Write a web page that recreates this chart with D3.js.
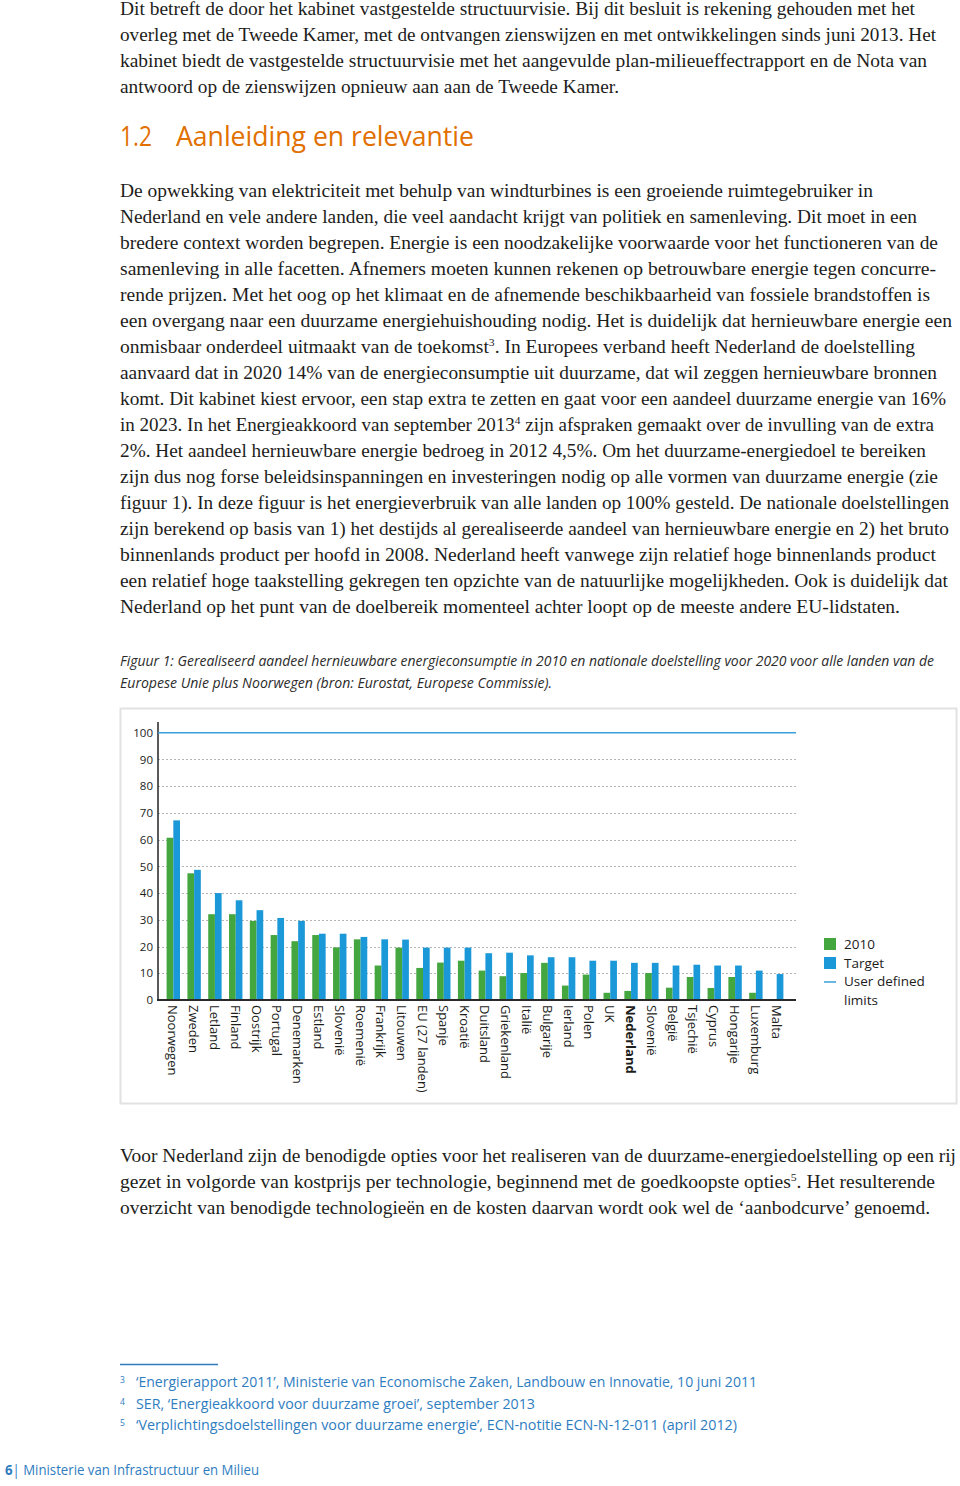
<!DOCTYPE html>
<html>
<head>
<meta charset="utf-8">
<script src="https://cdn.jsdelivr.net/npm/d3@7"></script>
<style>
  html, body { margin: 0; padding: 0; background: #fff; }
  svg { display: block; }
</style>
</head>
<body>
<svg id="page" width="960" height="1486"></svg>
<script>
// ---------- DATA ----------
const categories = ["Noorwegen","Zweden","Letland","Finland","Oostrijk","Portugal","Denemarken","Estland","Slovenië","Roemenië","Frankrijk","Litouwen","EU (27 landen)","Spanje","Kroatië","Duitsland","Griekenland","Italië","Bulgarije","Ierland","Polen","UK","Nederland","Slovenië","België","Tsjechië","Cyprus","Hongarije","Luxemburg","Malta"];
const values2010 = [60.7,47.4,32.1,32.1,29.6,24.3,22.0,24.3,19.7,22.7,12.9,19.6,12.0,14.0,14.7,11.0,8.9,10.1,13.9,5.4,9.5,2.7,3.4,10.1,4.6,8.6,4.5,8.6,2.7,0];
const valuesTarget = [67.2,48.7,40.0,37.3,33.6,30.7,29.6,24.8,24.8,23.6,22.7,22.6,19.6,19.6,19.6,17.5,17.7,16.7,16.0,16.0,14.7,14.7,13.9,13.9,12.9,13.2,12.9,12.9,11.0,9.7];
const yTicks = [0,10,20,30,40,50,60,70,80,90,100];
const userLimit = 100;
const seriesNames = ["2010","Target"];
const highlight = "Nederland";

// ---------- STYLE ----------
const GREEN = "#44a63f", BLUE = "#1b98d8", LIMIT = "#3aa0dc";
const TEXT = "#1d1d1b", ORANGE = "#e17000", FNBLUE = "#2f7dbf";
const SERIF = "'Liberation Serif', 'DejaVu Serif', serif";
const SANS = "'Open Sans', 'Noto Sans', sans-serif";

const svg = d3.select("#page");

function line(x, y, right, content, opts) {
  const t = svg.append("text")
    .attr("x", x).attr("y", y)
    .attr("font-family", opts.family)
    .attr("font-size", opts.size)
    .attr("fill", opts.fill)
    .attr("font-style", opts.italic ? "italic" : "normal")
    .attr("font-weight", opts.weight || "normal")
    .attr("textLength", right - x)
    .attr("lengthAdjust", "spacingAndGlyphs");
  // superscript markers like {3}
  const parts = content.split(/(\{[0-9]+\})/);
  let pending = 0;
  parts.forEach(p => {
    if (!p) return;
    const m = p.match(/^\{([0-9]+)\}$/);
    if (m) {
      const shift = -opts.size * 0.38;
      t.append("tspan").attr("font-size", opts.size * 0.6).attr("dy", shift + pending).text(m[1]);
      pending = -shift;
    } else {
      const ts = t.append("tspan").text(p);
      if (pending) { ts.attr("dy", pending); pending = 0; }
    }
  });
  return t;
}

// ---------- BODY TEXT ----------
const bodyOpts = {family: SERIF, size: 18.5, fill: TEXT};
const para1 = [
  ["Dit betreft de door het kabinet vastgestelde structuurvisie. Bij dit besluit is rekening gehouden met het", 915],
  ["overleg met de Tweede Kamer, met de ontvangen zienswijzen en met ontwikkelingen sinds juni 2013. Het", 936],
  ["kabinet biedt de vastgestelde structuurvisie met het aangevulde plan-milieueffectrapport en de Nota van", 927],
  ["antwoord op de zienswijzen opnieuw aan aan de Tweede Kamer.", 619]
];
para1.forEach((l, i) => line(120, 15 + 26 * i, l[1], l[0], bodyOpts));

svg.append("text").attr("x", 120).attr("y", 146).attr("font-family", SANS).attr("font-size", 27)
  .attr("fill", ORANGE).attr("textLength", 32).attr("lengthAdjust", "spacingAndGlyphs").text("1.2");
svg.append("text").attr("x", 176).attr("y", 146).attr("font-family", SANS).attr("font-size", 27)
  .attr("fill", ORANGE).attr("textLength", 298).attr("lengthAdjust", "spacingAndGlyphs").text("Aanleiding en relevantie");

const para2 = [
  ["De opwekking van elektriciteit met behulp van windturbines is een groeiende ruimtegebruiker in", 873],
  ["Nederland en vele andere landen, die veel aandacht krijgt van politiek en samenleving. Dit moet in een", 917],
  ["bredere context worden begrepen. Energie is een noodzakelijke voorwaarde voor het functioneren van de", 938],
  ["samenleving in alle facetten. Afnemers moeten kunnen rekenen op betrouwbare energie tegen concurre-", 936],
  ["rende prijzen. Met het oog op het klimaat en de afnemende beschikbaarheid van fossiele brandstoffen is", 930],
  ["een overgang naar een duurzame energiehuishouding nodig. Het is duidelijk dat hernieuwbare energie een", 952],
  ["onmisbaar onderdeel uitmaakt van de toekomst{3}. In Europees verband heeft Nederland de doelstelling", 915],
  ["aanvaard dat in 2020 14% van de energieconsumptie uit duurzame, dat wil zeggen hernieuwbare bronnen", 937],
  ["komt. Dit kabinet kiest ervoor, een stap extra te zetten en gaat voor een aandeel duurzame energie van 16%", 946],
  ["in 2023. In het Energieakkoord van september 2013{4} zijn afspraken gemaakt over de invulling van de extra", 934],
  ["2%. Het aandeel hernieuwbare energie bedroeg in 2012 4,5%. Om het duurzame-energiedoel te bereiken", 926],
  ["zijn dus nog forse beleidsinspanningen en investeringen nodig op alle vormen van duurzame energie (zie", 938],
  ["figuur 1). In deze figuur is het energieverbruik van alle landen op 100% gesteld. De nationale doelstellingen", 949],
  ["zijn berekend op basis van 1) het destijds al gerealiseerde aandeel van hernieuwbare energie en 2) het bruto", 949],
  ["binnenlands product per hoofd in 2008. Nederland heeft vanwege zijn relatief hoge binnenlands product", 936],
  ["een relatief hoge taakstelling gekregen ten opzichte van de natuurlijke mogelijkheden. Ook is duidelijk dat", 948],
  ["Nederland op het punt van de doelbereik momenteel achter loopt op de meeste andere EU-lidstaten.", 900]
];
para2.forEach((l, i) => line(120, 197 + 26 * i, l[1], l[0], bodyOpts));

const capOpts = {family: SANS, size: 14, fill: "#2b2b2b", italic: true};
line(120, 666, 934, "Figuur 1: Gerealiseerd aandeel hernieuwbare energieconsumptie in 2010 en nationale doelstelling voor 2020 voor alle landen van de", capOpts);
line(120, 688, 552, "Europese Unie plus Noorwegen (bron: Eurostat, Europese Commissie).", capOpts);

const para3 = [
  ["Voor Nederland zijn de benodigde opties voor het realiseren van de duurzame-energiedoelstelling op een rij", 956],
  ["gezet in volgorde van kostprijs per technologie, beginnend met de goedkoopste opties{5}. Het resulterende", 935],
  ["overzicht van benodigde technologieën en de kosten daarvan wordt ook wel de ‘aanbodcurve’ genoemd.", 930]
];
para3.forEach((l, i) => line(120, 1162 + 26 * i, l[1], l[0], bodyOpts));

// footnotes
svg.append("line").attr("x1", 120).attr("x2", 218).attr("y1", 1364.5).attr("y2", 1364.5)
  .attr("stroke", FNBLUE).attr("stroke-width", 1.3);
const footnotes = [
  ["3", "‘Energierapport 2011’, Ministerie van Economische Zaken, Landbouw en Innovatie, 10 juni 2011", 757],
  ["4", "SER, ‘Energieakkoord voor duurzame groei’, september 2013", 535],
  ["5", "‘Verplichtingsdoelstellingen voor duurzame energie’, ECN-notitie ECN-N-12-011 (april 2012)", 737]
];
footnotes.forEach((f, i) => {
  const y = 1387 + 21.5 * i;
  svg.append("text").attr("x", 120).attr("y", y - 4).attr("font-family", SANS).attr("font-size", 8.5)
    .attr("fill", FNBLUE).text(f[0]);
  line(136, y, f[2], f[1], {family: SANS, size: 14, fill: FNBLUE});
});
const foot = svg.append("text").attr("x", 5).attr("y", 1475).attr("font-family", SANS).attr("font-size", 14)
  .attr("fill", FNBLUE).attr("textLength", 254).attr("lengthAdjust", "spacingAndGlyphs");
foot.append("tspan").attr("font-weight", "bold").text("6");
foot.append("tspan").text("| Ministerie van Infrastructuur en Milieu");

// ---------- CHART ----------
svg.append("rect").attr("x", 120.5).attr("y", 708.5).attr("width", 836).attr("height", 395)
  .attr("fill", "#fff").attr("stroke", "#e2e2e2").attr("stroke-width", 2);

const plotLeft = 158, plotRight = 796, yBottom = 1000, yTop = 732.7;
const y = d3.scaleLinear().domain([0, 100]).range([yBottom, yTop]);
const x = d3.scaleBand().domain(d3.range(categories.length)).range([156, 794])
  .paddingInner(0.356).paddingOuter(0.51);
const xs = d3.scaleBand().domain(seriesNames).range([0, x.bandwidth()]);

// gridlines
const grid = svg.append("g");
grid.selectAll("line").data(yTicks.filter(t => t > 0 && t < userLimit)).join("line")
  .attr("x1", plotLeft).attr("x2", plotRight)
  .attr("y1", d => Math.round(y(d)) + 0.5).attr("y2", d => Math.round(y(d)) + 0.5)
  .attr("stroke", "#b5b5b5").attr("stroke-width", 1).attr("stroke-dasharray", "2,2");

// y axis
const yAxis = d3.axisLeft(y).tickValues(yTicks).tickSize(0).tickPadding(5);
const ya = svg.append("g").attr("transform", `translate(${plotLeft},0)`).call(yAxis);
ya.select(".domain").remove();
ya.selectAll("text").attr("font-family", SANS).attr("font-size", 11.5).attr("fill", TEXT);
svg.append("line").attr("x1", plotLeft).attr("x2", plotLeft).attr("y1", 722).attr("y2", yBottom)
  .attr("stroke", "#222").attr("stroke-width", 1.5);

// bars
const bars = svg.append("g");
categories.forEach((c, i) => {
  const vals = [values2010[i], valuesTarget[i]];
  seriesNames.forEach((s, j) => {
    if (vals[j] <= 0) return;
    bars.append("rect")
      .attr("x", x(i) + xs(s)).attr("width", xs.bandwidth())
      .attr("y", y(vals[j])).attr("height", y(0) - y(vals[j]))
      .attr("fill", j === 0 ? GREEN : BLUE);
  });
});

// user defined limit line
svg.append("line").attr("x1", plotLeft).attr("x2", plotRight)
  .attr("y1", y(userLimit)).attr("y2", y(userLimit))
  .attr("stroke", LIMIT).attr("stroke-width", 1.6);

// baseline
svg.append("line").attr("x1", plotLeft - 1).attr("x2", plotRight)
  .attr("y1", y(0)).attr("y2", y(0)).attr("stroke", "#2a2a2a").attr("stroke-width", 2);

// category labels
const xa = svg.append("g");
xa.selectAll("text").data(categories).join("text")
  .attr("transform", (d, i) => `translate(${x(i) + x.bandwidth() / 2},${yBottom + 5}) rotate(90)`)
  .attr("text-anchor", "start").attr("dominant-baseline", "central")
  .attr("font-family", SANS).attr("font-size", 13)
  .attr("font-weight", d => d === highlight ? "bold" : "normal")
  .attr("fill", TEXT).text(d => d);

// legend
const lg = svg.append("g").attr("transform", "translate(824,938)");
lg.append("rect").attr("x", 0).attr("y", 0).attr("width", 12).attr("height", 12).attr("fill", GREEN);
lg.append("rect").attr("x", 0).attr("y", 19).attr("width", 12).attr("height", 12).attr("fill", BLUE);
lg.append("line").attr("x1", 0).attr("x2", 12).attr("y1", 44).attr("y2", 44).attr("stroke", LIMIT).attr("stroke-width", 1.5);
const legendText = [[seriesNames[0], 11], [seriesNames[1], 30], ["User defined", 48], ["limits", 67]];
lg.selectAll("text.l").data(legendText).join("text").attr("class", "l")
  .attr("x", 20).attr("y", d => d[1]).attr("font-family", SANS).attr("font-size", 13.5)
  .attr("fill", TEXT).text(d => d[0]);
</script>
</body>
</html>
